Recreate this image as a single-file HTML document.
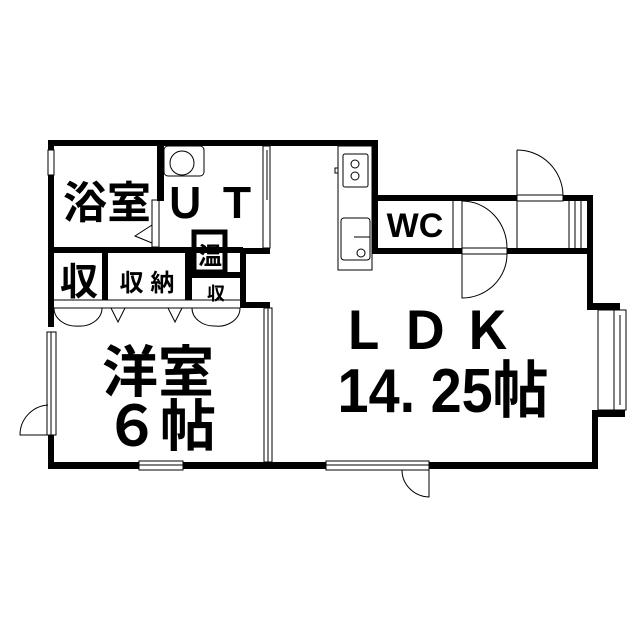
<!DOCTYPE html>
<html><head><meta charset="utf-8"><style>
html,body{margin:0;padding:0;background:#fff;width:640px;height:640px;overflow:hidden}
svg{display:block}
text{font-family:"Liberation Sans","Noto Sans CJK JP",sans-serif;fill:#000;font-weight:bold}
</style></head><body>
<svg width="640" height="640" viewBox="0 0 640 640" xmlns="http://www.w3.org/2000/svg">
<g fill="#000">
<rect x="48" y="140" width="330" height="6"/>
<rect x="372" y="140" width="6" height="114"/>
<rect x="48" y="140" width="6" height="187"/>
<rect x="48" y="435" width="6" height="33"/>
<rect x="157" y="146" width="7" height="55"/>
<rect x="48" y="247" width="195" height="6"/>
<rect x="102" y="253" width="6" height="47"/>
<rect x="185" y="253" width="7" height="47"/>
<rect x="192" y="272" width="50" height="6"/>
<rect x="240" y="248" width="6" height="60"/>
<rect x="240" y="302" width="30" height="6"/>
<rect x="246" y="248" width="24" height="6"/>
<rect x="194" y="232" width="31" height="40" fill="none" stroke="#000" stroke-width="5"/>
<rect x="378" y="195" width="139" height="6"/>
<rect x="563" y="195" width="30" height="6"/>
<rect x="587" y="195" width="6" height="115"/>
<rect x="372" y="248" width="90" height="6"/>
<rect x="507" y="248" width="86" height="6"/>
<rect x="587" y="303" width="33" height="7"/>
<rect x="592" y="410" width="33" height="7"/>
<rect x="592" y="410" width="6" height="58"/>
<rect x="48" y="462" width="550" height="7"/>
</g>
<g fill="#fff" stroke="#000" stroke-width="1">
<rect x="139" y="461" width="44" height="9"/>
<rect x="326" y="461" width="103" height="9"/>
<rect x="47" y="332" width="9" height="103"/>
<rect x="598" y="310" width="28" height="100"/>
<rect x="48" y="150" width="6" height="25"/>
</g>
<g fill="none" stroke="#000" stroke-width="1">
<line x1="614" y1="310" x2="614" y2="410"/><line x1="620" y1="315" x2="620" y2="405"/>
<line x1="139" y1="465" x2="183" y2="465"/><line x1="326" y1="465" x2="429" y2="465"/>
<line x1="51" y1="332" x2="51" y2="435"/>
<rect x="264" y="308" width="8" height="154"/>
<line x1="268" y1="308" x2="268" y2="462"/>
<rect x="263" y="146" width="7" height="102"/>
<line x1="267" y1="150" x2="267" y2="200"/>
<rect x="152" y="200" width="7" height="47"/>
<polyline points="152,225 135,236 152,243"/>
<rect x="164" y="146" width="40" height="30" rx="4"/>
<circle cx="182" cy="163" r="12"/>
<line x1="54" y1="300" x2="240" y2="300"/><line x1="54" y1="308" x2="240" y2="308"/>
<path d="M54 308 A22 18 0 0 0 78 326 M102 308 A22 18 0 0 1 78 326"/>
<polyline points="111,308 118,322 125,308"/><polyline points="168,308 175,322 182,308"/>
<path d="M192 308 A22 18 0 0 0 215 326 M240 308 A22 18 0 0 1 215 326"/>
<path d="M48 405 A30 30 0 0 0 20 435 L48 435"/>
<rect x="338" y="146" width="34" height="124"/>
<rect x="343" y="154" width="25" height="33" rx="2"/>
<circle cx="355" cy="164" r="4"/><circle cx="355" cy="176" r="4"/>
<rect x="341" y="218" width="29" height="42" rx="3"/>
<circle cx="361" cy="253" r="4"/><line x1="354" y1="237" x2="370" y2="237"/>
<rect x="335" y="168" width="3" height="5"/>
<line x1="453" y1="201" x2="453" y2="248"/>
<line x1="462" y1="201" x2="462" y2="248"/>
<path d="M462 201 A45 47 0 0 1 507 248"/>
<rect x="462" y="248" width="45" height="6"/>
<path d="M462 254 L462 298 A45 44 0 0 0 507 254"/>
<line x1="517" y1="150" x2="517" y2="195"/>
<path d="M517 150 A46 46 0 0 1 563 195"/>
<rect x="517" y="195" width="46" height="6"/>
<line x1="517" y1="201" x2="517" y2="248"/>
<line x1="569" y1="201" x2="569" y2="248"/><line x1="575" y1="201" x2="575" y2="248"/><line x1="581" y1="201" x2="581" y2="248"/>
<path d="M429 470 L429 497 A28 27 0 0 1 402 470"/>
</g>
<text x="107" y="218" font-size="44" text-anchor="middle">浴室</text>
<text x="216" y="218" font-size="42" text-anchor="middle" letter-spacing="10">ＵＴ</text>
<text x="210" y="264" font-size="24" text-anchor="middle">温</text>
<text x="415" y="237" font-size="34" text-anchor="middle">WC</text>
<text x="79" y="295" font-size="38" text-anchor="middle">収</text>
<text x="147" y="291" font-size="24" text-anchor="middle">収 納</text>
<text x="216" y="300" font-size="18" text-anchor="middle">収</text>
<text x="158" y="392" font-size="56" text-anchor="middle">洋室</text>
<text x="160" y="446" font-size="56" text-anchor="middle">６帖</text>
<text x="430" y="349" font-size="52" text-anchor="middle" letter-spacing="10">ＬＤＫ</text>
<text x="443" y="412" font-size="62" text-anchor="middle" transform="translate(443 0) scale(0.9 1) translate(-443 0)">14. 25帖</text>
</svg>
</body></html>
